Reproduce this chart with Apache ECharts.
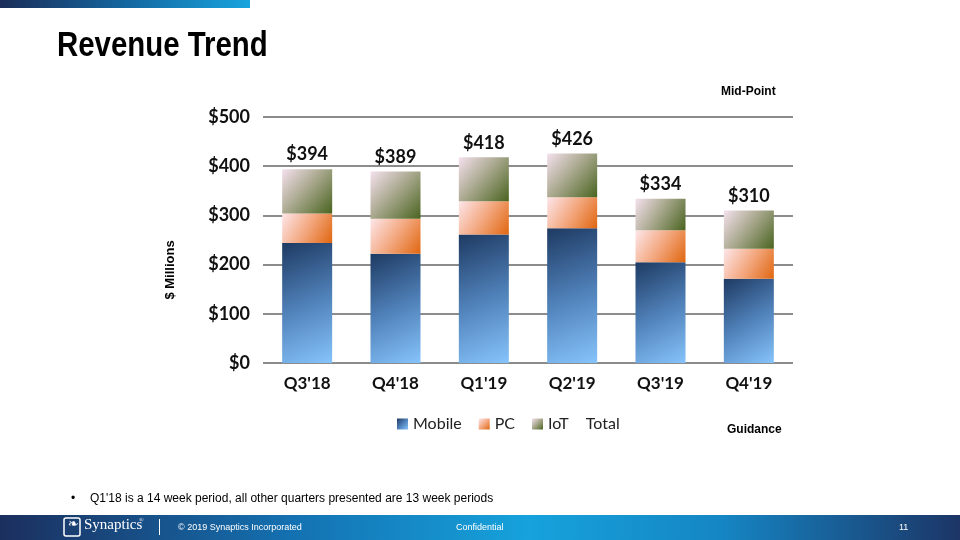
<!DOCTYPE html>
<html><head><meta charset="utf-8">
<script src="https://cdn.jsdelivr.net/npm/echarts@6/dist/echarts.min.js"></script>
<style>html,body{margin:0;padding:0;background:#fff}#c{width:960px;height:540px}</style>
</head><body><div id="c"></div>
<script>
const categories = ["Q3'18", "Q4'18", "Q1'19", "Q2'19", "Q3'19", "Q4'19"];
const mobile = [244, 222, 261, 274, 205, 171];
const pc = [60, 71, 68, 63, 65, 61];
const iot = [90, 96, 89, 89, 64, 78];
const totals = [394, 389, 418, 426, 334, 310];
const yTicks = [0, 100, 200, 300, 400, 500];

const chart = echarts.init(document.getElementById('c'), null, {renderer: 'canvas'});
function grad(c0, c1, c2) {
  return new echarts.graphic.LinearGradient(0, 0, 1, 1, [
    {offset: 0, color: c0}, {offset: 0.5, color: c1}, {offset: 1, color: c2}
  ]);
}
const font = 'Lato, "Open Sans", sans-serif';
chart.setOption({
  animation: false,
  grid: {left: 263, right: 167, top: 117, bottom: 177},
  legend: {
    left: 392, top: 411, itemWidth: 11, itemHeight: 11, itemGap: 17,
    textStyle: {fontFamily: font, fontSize: 16, color: '#222'},
    data: [
      {name: 'Mobile', icon: 'rect'},
      {name: 'PC', icon: 'rect'},
      {name: 'IoT', icon: 'rect'},
      {name: 'Total', icon: 'none', textStyle: {padding: [0, 0, 0, -16]}}
    ]
  },
  xAxis: {
    type: 'category', data: categories,
    axisLine: {show: false}, axisTick: {show: false},
    axisLabel: {fontFamily: font, fontWeight: 'bold', fontSize: 17, color: '#111', margin: 12}
  },
  yAxis: {
    type: 'value', min: 0, max: 500, interval: 100,
    axisLabel: {fontFamily: font, fontWeight: 'bold', fontSize: 18, color: '#111', margin: 13,
      formatter: v => '$' + v},
    splitLine: {lineStyle: {color: '#8c8c8c', width: 2}}
  },
  series: [
    {name: 'Mobile', type: 'bar', stack: 'a', barWidth: 50, data: mobile,
     itemStyle: {color: grad('#1e3a62', '#4f80b8', '#86c4fb')}},
    {name: 'PC', type: 'bar', stack: 'a', data: pc,
     itemStyle: {color: grad('#fde6ea', '#f3a880', '#e0660f')}},
    {name: 'IoT', type: 'bar', stack: 'a', data: iot,
     itemStyle: {color: grad('#f5e1ee', '#a3a487', '#4a6420')}},
    {name: 'Total', type: 'line', data: totals, symbol: 'circle', symbolSize: 1, showSymbol: true,
     silent: true, lineStyle: {opacity: 0}, itemStyle: {color: 'rgba(0,0,0,0)'},
     label: {show: true, position: 'top', distance: 5, fontFamily: font, fontWeight: 'bold',
       fontSize: 18, color: '#111', formatter: p => '$' + p.value}}
  ],
  graphic: [
    {type: 'rect', shape: {x: 0, y: 0, width: 250, height: 8},
     style: {fill: new echarts.graphic.LinearGradient(0, 0, 1, 0, [
       {offset: 0, color: '#1b2d58'}, {offset: 0.5, color: '#14669f'}, {offset: 1, color: '#18a4de'}])}},
    {type: 'text', x: 57, y: 29, scaleX: 0.84,
     style: {text: 'Revenue Trend', font: 'bold 35px "Liberation Sans", Arial, sans-serif', fill: '#000'}},
    {type: 'text', left: 721, top: 86,
     style: {text: 'Mid-Point', font: 'bold 12px "Liberation Sans", Arial, sans-serif', fill: '#000'}},
    {type: 'text', left: 727, top: 424,
     style: {text: 'Guidance', font: 'bold 12px "Liberation Sans", Arial, sans-serif', fill: '#000'}},
    {type: 'text', x: 170, y: 270, rotation: Math.PI / 2,
     style: {text: '$ Millions', font: 'bold 13px "Liberation Sans", Arial, sans-serif', fill: '#000',
       align: 'center', verticalAlign: 'middle'}},
    {type: 'text', left: 71, top: 493,
     style: {text: '\u2022', font: '12px "Liberation Sans", Arial, sans-serif', fill: '#000'}},
    {type: 'text', left: 90, top: 493,
     style: {text: "Q1'18 is a 14 week period, all other quarters presented are 13 week periods",
       font: '12px "Liberation Sans", Arial, sans-serif', fill: '#000'}},
    {type: 'rect', shape: {x: 0, y: 515, width: 960, height: 25},
     style: {fill: new echarts.graphic.LinearGradient(0, 0, 1, 0, [
       {offset: 0, color: '#1b2f5e'}, {offset: 0.3, color: '#1470b0'}, {offset: 0.55, color: '#16a2dc'},
       {offset: 0.75, color: '#1586c4'}, {offset: 1, color: '#1c3566'}])}},
    {type: 'rect', shape: {x: 64, y: 518, width: 16, height: 18, r: 2},
     style: {fill: 'none', stroke: '#fff', lineWidth: 1.5}},
    {type: 'text', left: 68, top: 518,
     style: {text: '\u2767', font: '13px "DejaVu Sans", sans-serif', fill: '#fff'}},
    {type: 'text', left: 84, top: 518,
     style: {text: 'Synaptics', font: '15px "Liberation Serif", serif', fill: '#fff'}},
    {type: 'text', left: 139, top: 517,
     style: {text: '\u00ae', font: '6px "Liberation Serif", serif', fill: '#fff'}},
    {type: 'rect', shape: {x: 159, y: 519, width: 1, height: 16}, style: {fill: '#fff'}},
    {type: 'text', left: 178, top: 523,
     style: {text: '\u00a9 2019 Synaptics Incorporated', font: '9px "Liberation Sans", Arial, sans-serif', fill: '#fff'}},
    {type: 'text', left: 456, top: 523,
     style: {text: 'Confidential', font: '9px "Liberation Sans", Arial, sans-serif', fill: '#fff'}},
    {type: 'text', left: 899, top: 523,
     style: {text: '11', font: '9px "Liberation Sans", Arial, sans-serif', fill: '#fff'}}
  ]
});
</script></body></html>
